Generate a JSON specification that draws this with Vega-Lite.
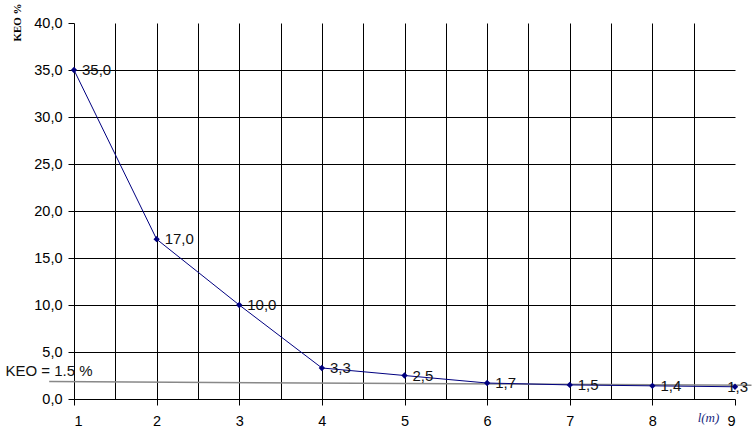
{
  "$schema": "https://vega.github.io/schema/vega-lite/v6.json",
  "width": 661,
  "height": 376,
  "autosize": {"type": "none"},
  "padding": {"left": 74, "top": 23, "right": 19, "bottom": 49},
  "background": "white",
  "config": {
    "locale": {"number": {"decimal": ",", "thousands": ".", "grouping": [3], "currency": ["", ""]}},
    "view": {"stroke": null},
    "axis": {"labelFont": "Liberation Sans", "labelFontSize": 14.5, "labelColor": "#000", "domainColor": "#000", "tickColor": "#000", "gridColor": "#000", "gridOpacity": 1}
  },
  "datasets": {
    "pts": [
      {"l": 1, "keo": 35.0},
      {"l": 2, "keo": 17.0},
      {"l": 3, "keo": 10.0},
      {"l": 4, "keo": 3.3},
      {"l": 5, "keo": 2.5},
      {"l": 6, "keo": 1.7},
      {"l": 7, "keo": 1.5},
      {"l": 8, "keo": 1.4},
      {"l": 9, "keo": 1.3}
    ],
    "ref": [
      {"l": 0.7, "keo": 1.85},
      {"l": 9.2, "keo": 1.45}
    ],
    "note": [
      {"l": 0.17, "keo": 2.98, "txt": "KEO = 1.5 %"}
    ]
  },
  "layer": [
    {
      "data": {"name": "ref"},
      "mark": {"type": "line", "color": "#888888", "strokeWidth": 1.5, "clip": false},
      "encoding": {
        "x": {
          "field": "l", "type": "quantitative",
          "scale": {"domain": [1, 9], "nice": false, "zero": false},
          "axis": {
            "values": [1, 1.5, 2, 2.5, 3, 3.5, 4, 4.5, 5, 5.5, 6, 6.5, 7, 7.5, 8, 8.5, 9],
            "format": ".0f",
            "labelExpr": "datum.value % 1 == 0 ? datum.label : ''",
            "labelOverlap": false,
            "labelPadding": 9,
            "tickSize": 6,
            "tickOpacity": {"condition": {"test": "datum.value % 1 != 0", "value": 0}, "value": 1},
            "grid": true,
            "gridOpacity": {"condition": {"test": "datum.value == 1 || datum.value == 9", "value": 0}, "value": 1},
            "title": "l(m)",
            "titleFont": "Liberation Serif",
            "titleFontStyle": "italic",
            "titleFontWeight": "normal",
            "titleFontSize": 13,
            "titleColor": "#1a2a80",
            "titleX": 634,
            "titleY": 18,
            "titleAlign": "center",
            "titleBaseline": "middle"
          }
        },
        "y": {
          "field": "keo", "type": "quantitative",
          "scale": {"domain": [0, 40], "nice": false},
          "axis": {
            "values": [0, 5, 10, 15, 20, 25, 30, 35, 40],
            "format": ".1f",
            "tickSize": 6,
            "labelPadding": 6,
            "grid": true,
            "gridOpacity": {"condition": {"test": "datum.value == 0 || datum.value == 40", "value": 0}, "value": 1},
            "title": "KEO %",
            "titleFont": "Liberation Serif",
            "titleFontWeight": "bold",
            "titleFontSize": 11,
            "titleColor": "#000",
            "titleX": -57,
            "titleY": -1,
            "titleAngle": -90,
            "titleAlign": "center",
            "titleBaseline": "middle"
          }
        }
      }
    },
    {
      "data": {"name": "pts"},
      "mark": {"type": "line", "color": "#000080", "strokeWidth": 1},
      "encoding": {
        "x": {"field": "l", "type": "quantitative"},
        "y": {"field": "keo", "type": "quantitative"}
      }
    },
    {
      "data": {"name": "pts"},
      "mark": {"type": "point", "shape": "diamond", "filled": true, "color": "#000080", "size": 40, "opacity": 1, "clip": false},
      "encoding": {
        "x": {"field": "l", "type": "quantitative"},
        "y": {"field": "keo", "type": "quantitative"}
      }
    },
    {
      "data": {"name": "pts"},
      "transform": [{"filter": "datum.l < 9"}],
      "mark": {"type": "text", "align": "left", "baseline": "middle", "dx": 8, "font": "Liberation Sans", "fontSize": 15, "color": "#111", "clip": false},
      "encoding": {
        "x": {"field": "l", "type": "quantitative"},
        "y": {"field": "keo", "type": "quantitative"},
        "text": {"field": "keo", "type": "quantitative", "format": ".1f"}
      }
    },
    {
      "data": {"name": "pts"},
      "transform": [{"filter": "datum.l == 9"}],
      "mark": {"type": "text", "align": "right", "baseline": "middle", "dx": 13, "font": "Liberation Sans", "fontSize": 15, "color": "#111", "clip": false},
      "encoding": {
        "x": {"field": "l", "type": "quantitative"},
        "y": {"field": "keo", "type": "quantitative"},
        "text": {"field": "keo", "type": "quantitative", "format": ".1f"}
      }
    },
    {
      "data": {"name": "note"},
      "mark": {"type": "text", "align": "left", "baseline": "middle", "font": "Liberation Sans", "fontSize": 15, "color": "#111", "clip": false},
      "encoding": {
        "x": {"field": "l", "type": "quantitative"},
        "y": {"field": "keo", "type": "quantitative"},
        "text": {"field": "txt", "type": "nominal"}
      }
    }
  ]
}
